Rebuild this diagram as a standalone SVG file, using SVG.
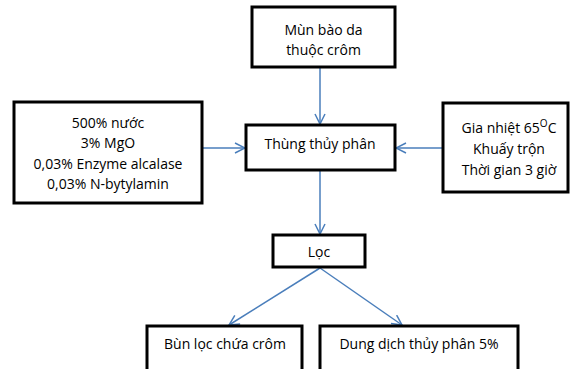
<svg xmlns="http://www.w3.org/2000/svg" width="570" height="369" viewBox="0 0 570 369">
<style>
.box{fill:#fff;stroke:#000;stroke-width:3}
.t{font-family:"Open Sans","Noto Sans","Liberation Sans",sans-serif;font-size:14px;fill:#000;text-anchor:middle}
.c{fill:none;stroke:#4a7ebb;stroke-width:1.5}
</style>
<defs>
<marker id="a" viewBox="0 0 12 12" refX="11" refY="6" markerWidth="12" markerHeight="12" markerUnits="userSpaceOnUse" orient="auto">
<path d="M1,1 L11,6 L1,11" fill="none" stroke="#4a7ebb" stroke-width="1.5"/>
</marker>
</defs>
<rect width="570" height="369" fill="#fff"/>
<g id="connectors">
<line class="c" x1="320" y1="67" x2="320" y2="124" marker-end="url(#a)"/>
<line class="c" x1="202" y1="148" x2="245" y2="148" marker-end="url(#a)"/>
<line class="c" x1="443" y1="148" x2="396" y2="148" marker-end="url(#a)"/>
<line class="c" x1="320" y1="171" x2="320" y2="234" marker-end="url(#a)"/>
<line class="c" x1="320" y1="268" x2="229" y2="325" marker-end="url(#a)"/>
<line class="c" x1="320" y1="268" x2="402" y2="325" marker-end="url(#a)"/>
</g>
<g id="n1"><rect class="box" x="252" y="7" width="143" height="60"/>
<text class="t" x="323.5" y="35">Mùn bào da</text><text class="t" x="323.5" y="55">thuộc crôm</text></g>
<g id="n2"><rect class="box" x="14" y="102" width="188" height="101"/>
<text class="t" x="108" y="128">500% nước</text><text class="t" x="108" y="148">3% MgO</text><text class="t" x="108" y="169">0,03% Enzyme alcalase</text><text class="t" x="108" y="189">0,03% N-bytylamin</text></g>
<g id="n3"><rect class="box" x="246" y="125" width="149" height="45"/>
<text class="t" x="320" y="149">Thùng thủy phân</text></g>
<g id="n4"><rect class="box" x="443" y="103" width="125" height="89"/>
<text class="t" x="509" y="133">Gia nhiệt 65<tspan dy="-6" font-size="10">O</tspan><tspan dy="6">C</tspan></text><text class="t" x="509" y="154">Khuấy trộn</text><text class="t" x="509" y="175">Thời gian 3 giờ</text></g>
<g id="n5"><rect class="box" x="273" y="235" width="92" height="32"/>
<text class="t" x="319" y="257">Lọc</text></g>
<g id="n6"><rect class="box" x="147" y="326" width="155" height="50"/>
<text class="t" x="225" y="349">Bùn lọc chứa crôm</text></g>
<g id="n7"><rect class="box" x="320" y="326" width="198" height="50"/>
<text class="t" x="419" y="349">Dung dịch thủy phân 5%</text></g>
</svg>
